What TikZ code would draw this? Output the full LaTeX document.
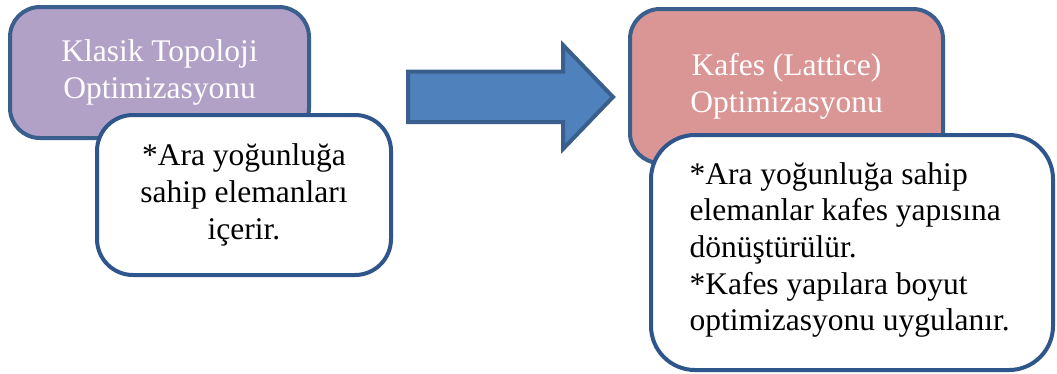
\documentclass[tikz,border=0pt]{standalone}
\usepackage{fontspec}
\setmainfont{Liberation Serif}
\definecolor{edgeblue}{HTML}{3A5F8D}
\definecolor{cardblue}{HTML}{2F568C}
\definecolor{lilac}{HTML}{B2A1C7}
\definecolor{rose}{HTML}{D99694}
\definecolor{arrowblue}{HTML}{4F81BD}
\begin{document}
\begin{tikzpicture}[x=1pt,y=-1pt,
  every node/.style={font=\fontsize{31.5}{36.7}\selectfont},
  titlebox/.style={draw=edgeblue, line width=4pt, rounded corners=30pt,
    inner sep=0pt, text=white, align=center},
  card/.style={draw=cardblue, fill=white, line width=4pt, rounded corners=36pt,
    inner sep=0pt, text=black},
  blockarrow/.style={draw=edgeblue, fill=arrowblue, line width=4pt, line join=miter}]
\useasboundingbox (0,0) rectangle (1057,373);

% left stage
\node[titlebox, fill=lilac, minimum width=299pt, minimum height=131pt]
  (classic) at (159.5,72.5) {Klasik Topoloji\\Optimizasyonu};
\node[card, align=center, minimum width=294pt, minimum height=160pt]
  (classicnote) at (244,195) {*Ara yoğunluğa\\sahip elemanları\\içerir.};

% block arrow between the stages
\draw[blockarrow] (408,71.5) -- (563,71.5) -- (563,45) -- (613,97)
  -- (563,149) -- (563,122) -- (408,122) -- cycle;

% right stage
\node[titlebox, fill=rose, minimum width=313pt, minimum height=154pt]
  (lattice) at (786.5,86) {Kafes (Lattice)\\Optimizasyonu};
\node[card, rounded corners=44pt, minimum width=402pt, minimum height=235pt]
  (latticenote) at (852,252.5) {};
\node[align=left, anchor=west] (latticetext) at (686,250)
  {*Ara yoğunluğa sahip\\elemanlar kafes yapısına\\dönüştürülür.\\*Kafes yapılara boyut\\optimizasyonu uygulanır.};
\end{tikzpicture}
\end{document}
